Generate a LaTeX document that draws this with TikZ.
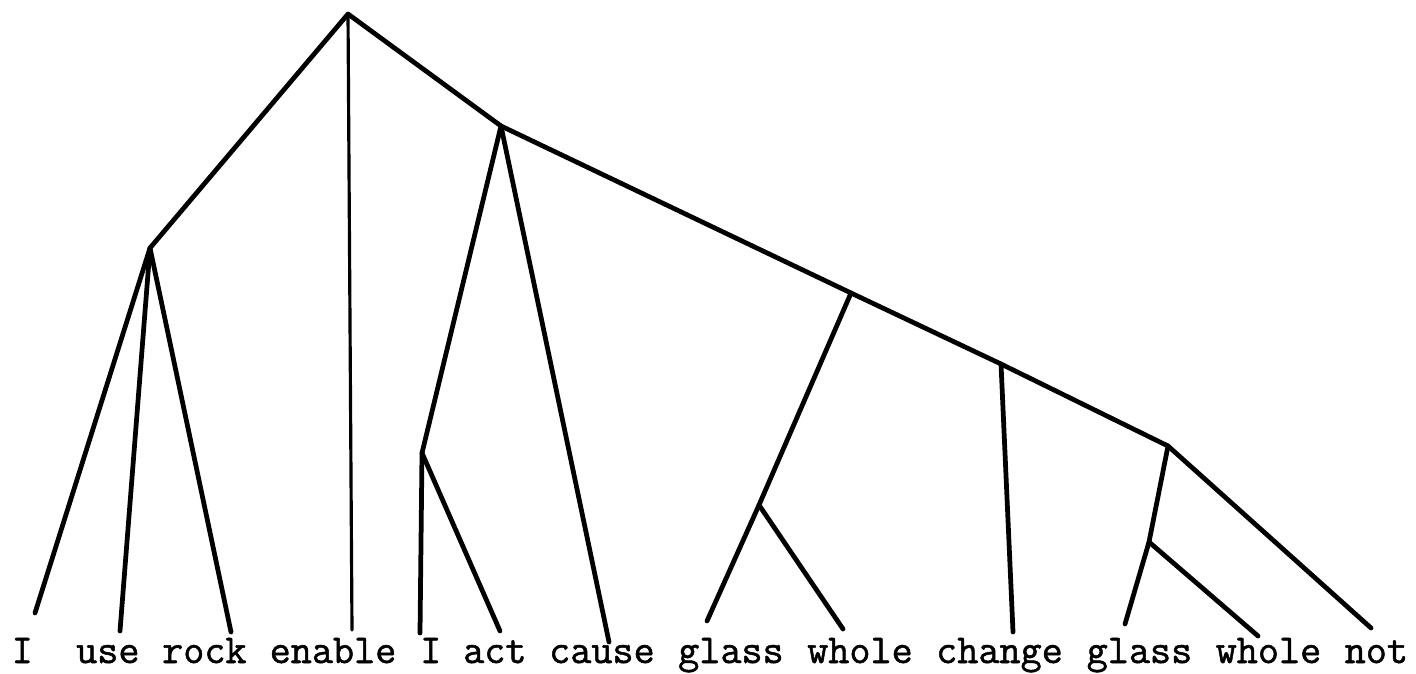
\documentclass[tikz,border=0pt]{standalone}
\usepackage{fontspec}
\usepackage{tikz}

\newfontfamily\typewfont{lmmono12-regular.otf}[FakeBold=1.2]

\tikzset{
  branch/.style={line width=1.35pt,line cap=round,line join=round},
  word/.style={anchor=base west,inner sep=0pt,font=\fontsize{11.65pt}{14pt}\selectfont\typewfont}
}

\begin{document}
\begin{tikzpicture}[x=0.01cm,y=-0.01cm]
    \useasboundingbox (0,0) rectangle (1416,673);
    % inner points of the tree
    \coordinate (root) at (348,14);
    \coordinate (nUse) at (150,248);
    \coordinate (nAct) at (501,126);
    \coordinate (nI) at (422,453);
    \coordinate (nGlass) at (851,293);
    \coordinate (nGlassLow) at (759,505);
    \coordinate (nChange) at (1001,364);
    \coordinate (nNot) at (1168,446);
    \coordinate (nWhole) at (1149,542);
    % ends of the leaves
    \coordinate (l1) at (35,613);
    \coordinate (l2) at (120,631);
    \coordinate (l3) at (231,632);
    \coordinate (l4) at (352,630);
    \coordinate (l5) at (420,633);
    \coordinate (l6) at (500,631);
    \coordinate (l7) at (609,642);
    \coordinate (l8) at (707,621);
    \coordinate (l9) at (843,629);
    \coordinate (l10) at (1013,632);
    \coordinate (l11) at (1125,624);
    \coordinate (l12) at (1258,636);
    \coordinate (l13) at (1371,628);
    % words
    \node[word] (wI) at (11,663) {I};
    \node[word] (wUse) at (75.5,663) {use};
    \node[word] (wRock) at (161.5,663) {rock};
    \node[word] (wEnable) at (269,663) {enable};
    \node[word] (wIb) at (419.5,663) {I};
    \node[word] (wAct) at (462.5,663) {act};
    \node[word] (wCause) at (548.5,663) {cause};
    \node[word] (wGlass) at (677.5,663) {glass};
    \node[word] (wWhole) at (806.5,663) {whole};
    \node[word] (wChange) at (935.5,663) {change};
    \node[word] (wGlassb) at (1086,663) {glass};
    \node[word] (wWholeb) at (1215,663) {whole};
    \node[word] (wNot) at (1344,663) {not};
    % branches
    \draw[branch] (l1) -- (nUse) -- (root) -- (nAct) -- (nGlass) -- (nChange) -- (nNot) -- (l13);
    \draw[branch,line width=0.9pt] (root) -- (l4);
    \draw[branch] (nUse) -- (l2);
    \draw[branch] (nUse) -- (l3);
    \draw[branch] (nAct) -- (nI) -- (l5);
    \draw[branch] (nI) -- (l6);
    \draw[branch] (nAct) -- (l7);
    \draw[branch] (nGlass) -- (nGlassLow) -- (l8);
    \draw[branch] (nGlassLow) -- (l9);
    \draw[branch] (nChange) -- (l10);
    \draw[branch] (nNot) -- (nWhole) -- (l11);
    \draw[branch] (nWhole) -- (l12);
  \end{tikzpicture}
\end{document}
